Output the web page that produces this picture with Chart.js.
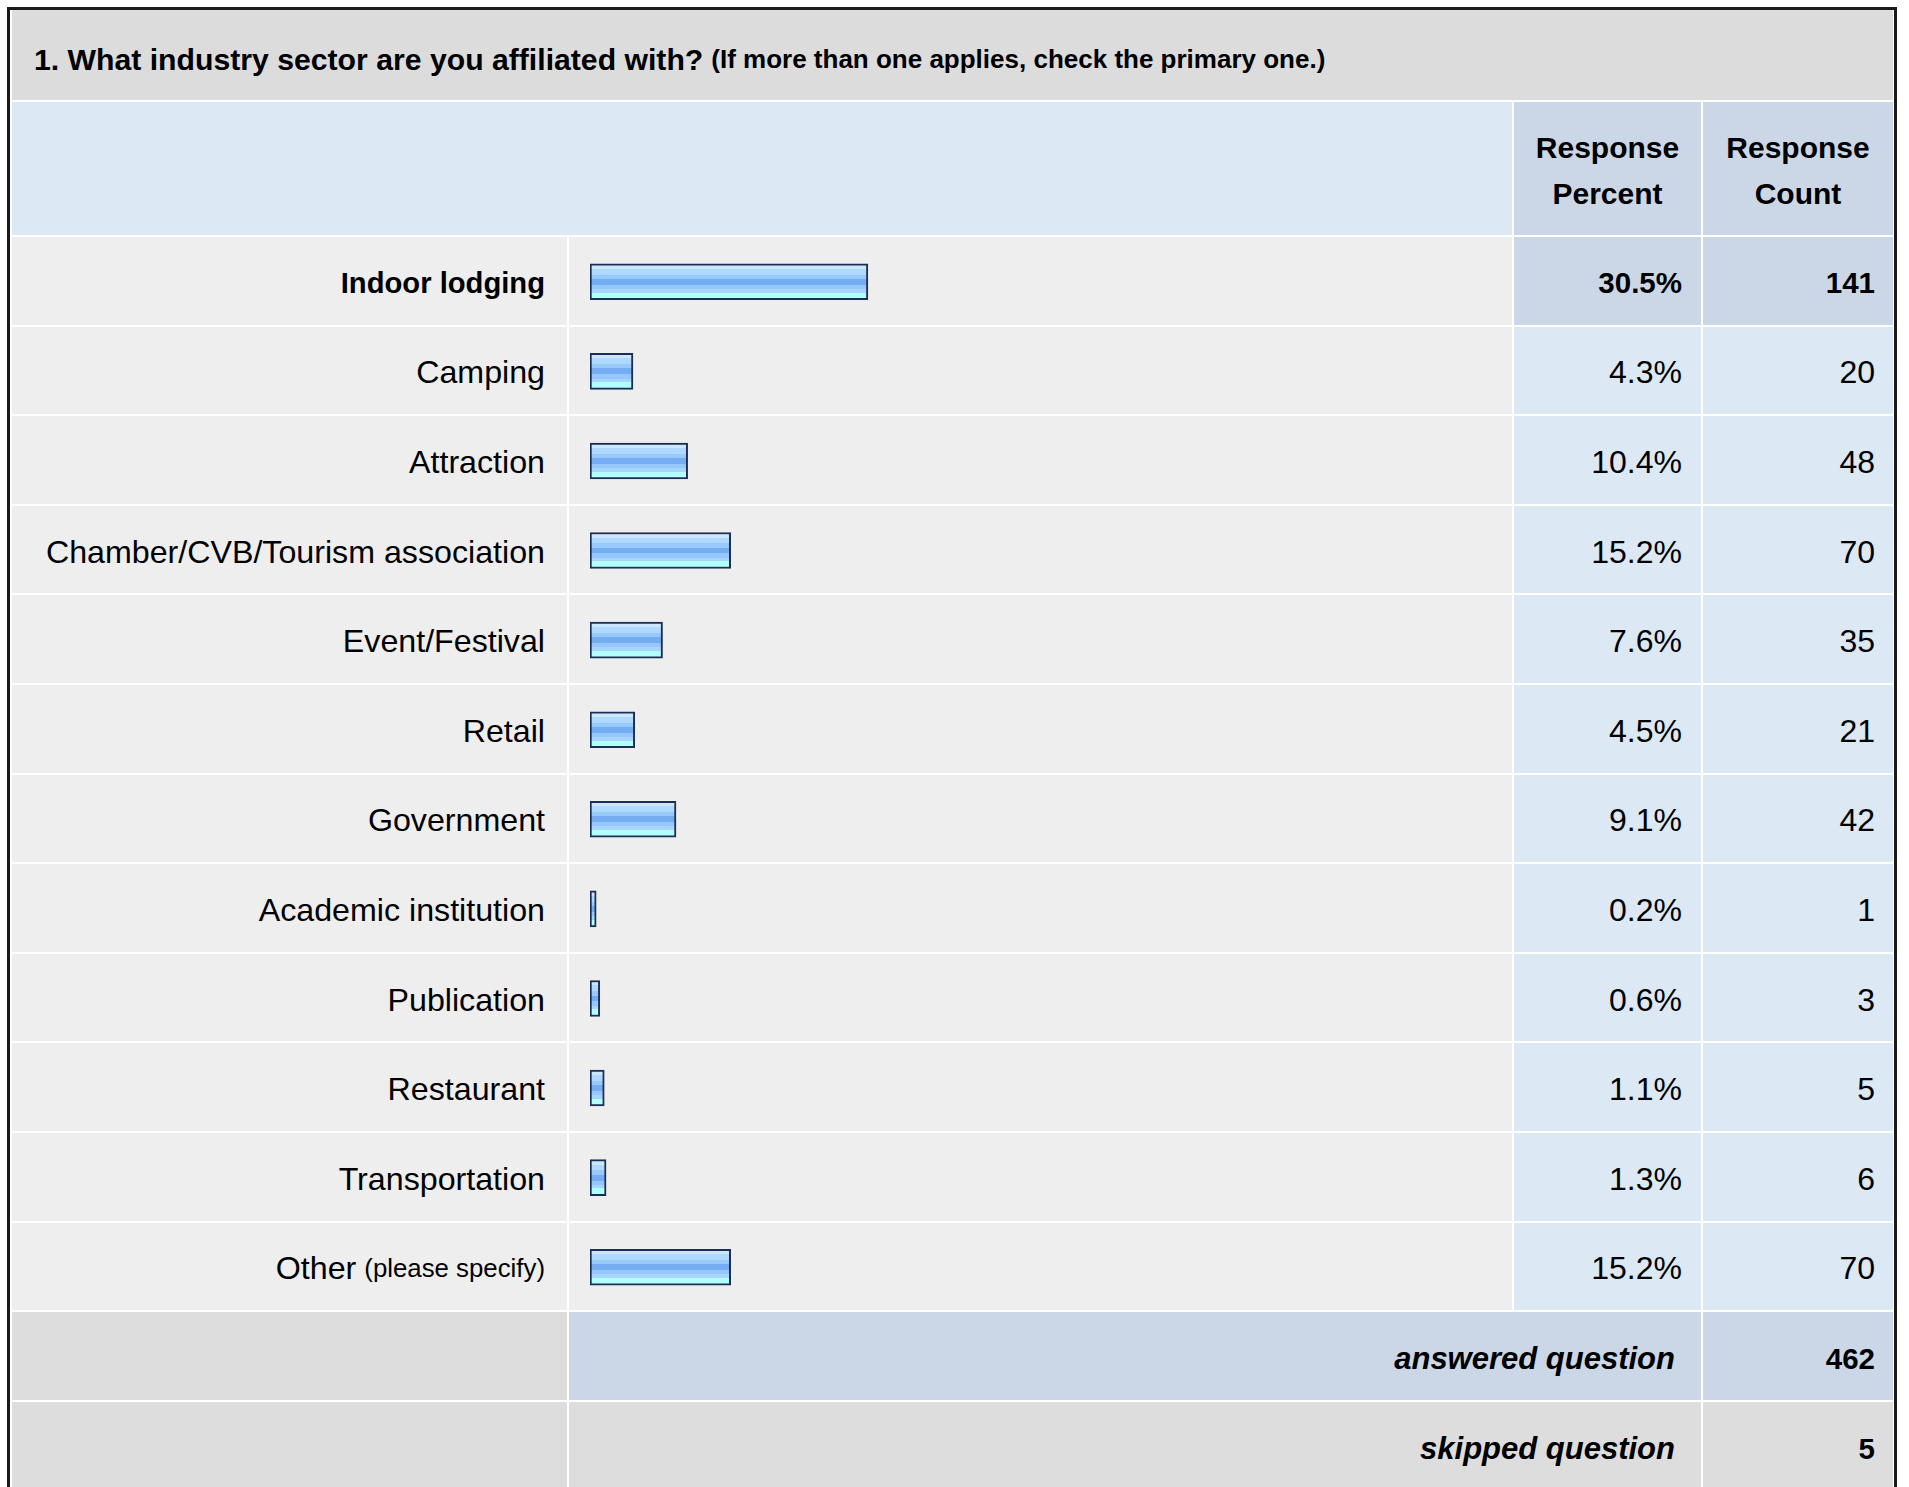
<!DOCTYPE html>
<html>
<head>
<meta charset="utf-8">
<title>Industry sector</title>
<script src="https://cdn.jsdelivr.net/npm/chart.js@4.4.1/dist/chart.umd.min.js"></script>
<style>
  html, body { margin: 0; padding: 0; background: #fff; overflow: hidden; }
  body { width: 1909px; height: 1487px; position: relative; font-family: 'Liberation Sans', Arial, Helvetica, sans-serif; color: #000; }
  #frame { position: absolute; left: 7px; top: 7px; width: 1884px; height: 1500px; border: 3px solid #1a1a1a; background: #fff; }
  #grid {
    position: absolute; left: 2px; top: 0;
    display: grid;
    grid-template-columns: 555px 943px 187px 190px;
    grid-template-rows: 90px 133px repeat(12, 87.6px) 88px 88px;
    gap: 2px;
  }
  .cell { display: flex; align-items: center; box-sizing: border-box; padding-top: 5px; }
  .title { grid-column: 1 / 5; background: #dcdcdc; padding-left: 22px; padding-top: 9px; font-weight: bold; font-size: 30.2px; }
  .title small { font-size: 26px; margin-left: 8px; }
  .head { background: #dde8f5; }
  .headcol { background: #cbd7e6; justify-content: center; text-align: center; font-weight: bold; font-size: 30px; line-height: 46px; padding-top: 5px; }
  .label { background: #eeeeee; justify-content: flex-end; padding-right: 22px; font-size: 32.2px; }
  .label small { font-size: 25.8px; margin-left: 8px; }
  .bar { background: #eeeeee; }
  .val { background: #dde8f5; justify-content: flex-end; font-size: 32px; }
  .pct { padding-right: 19px; }
  .cnt { padding-right: 18px; }
  .val.top { background: #cbd7e6; font-weight: bold; font-size: 29.5px; }
  .label.top { font-weight: bold; font-size: 29.2px; }
  .foot { background: #dddddd; }
  .footmid { grid-column: 2 / 4; justify-content: flex-end; padding-right: 26px; font-weight: bold; font-style: italic; font-size: 31px; }
  .footcnt { justify-content: flex-end; padding-right: 18px; font-weight: bold; font-size: 29.5px; }
  .blue { background: #cbd7e6; }
  #chartBox { position: absolute; left: 569px; top: 237px; width: 943px; height: 1075px; }
</style>
</head>
<body>
<div id="frame"><div id="grid"></div></div>
<div id="chartBox"><canvas id="bars" width="943" height="1075"></canvas></div>
<script>
const question = '1. What industry sector are you affiliated with?';
const questionNote = '(If more than one applies, check the primary one.)';
const categories = ['Indoor lodging', 'Camping', 'Attraction', 'Chamber/CVB/Tourism association',
    'Event/Festival', 'Retail', 'Government', 'Academic institution', 'Publication',
    'Restaurant', 'Transportation', 'Other'];
const categoryNotes = ['', '', '', '', '', '', '', '', '', '', '', '(please specify)'];
const percents = [30.5, 4.3, 10.4, 15.2, 7.6, 4.5, 9.1, 0.2, 0.6, 1.1, 1.3, 15.2];
const counts = [141, 20, 48, 70, 35, 21, 42, 1, 3, 5, 6, 70];
const answered = 462;
const skipped = 5;

const grid = document.getElementById('grid');
const topIndex = percents.indexOf(Math.max(...percents));

const addCell = (cls, html) => {
    const d = document.createElement('div');
    d.className = 'cell ' + cls;
    d.innerHTML = html;
    grid.appendChild(d);
    return d;
};

addCell('title', question + '<small>' + questionNote + '</small>');
addCell('head', '').style.gridColumn = '1 / 3';
addCell('headcol', 'Response<br>Percent');
addCell('headcol', 'Response<br>Count');

categories.forEach((name, i) => {
    const isTop = i === topIndex ? ' top' : '';
    const note = categoryNotes[i] ? '<small>' + categoryNotes[i] + '</small>' : '';
    addCell('label' + isTop, name + note);
    addCell('bar', '');
    addCell('val pct' + isTop, percents[i].toFixed(1) + '%');
    addCell('val cnt' + isTop, String(counts[i]));
});

addCell('foot', '');
addCell('footmid blue', 'answered question');
addCell('footcnt blue', String(answered));
addCell('foot', '');
addCell('footmid foot', 'skipped question');
addCell('footcnt foot', String(skipped));

// striped glossy fill, one gradient per bar
const stripes = [
    [0, 0.14, '#cde7ff'], [0.14, 0.3, '#b0d9ff'], [0.3, 0.42, '#98c9fd'],
    [0.42, 0.58, '#75adf3'], [0.58, 0.7, '#96c7fc'], [0.7, 0.8, '#a8d5ff'], [0.8, 1, '#b2ffff']
];
const thickness = 36;

const barFill = (context) => {
    const chart = context.chart;
    const { ctx, chartArea, scales } = chart;
    if (!chartArea || context.type !== 'data') {
        return '#98c9fd';
    }
    const yc = scales.y.getPixelForValue(context.dataIndex);
    const g = ctx.createLinearGradient(0, yc - thickness / 2, 0, yc + thickness / 2);
    stripes.forEach(([a, b, c]) => {
        g.addColorStop(a, c);
        g.addColorStop(b, c);
    });
    return g;
};

new Chart(document.getElementById('bars').getContext('2d'), {
    type: 'bar',
    data: {
        labels: categories,
        datasets: [{
            data: percents,
            base: -0.49,
            backgroundColor: barFill,
            borderColor: '#1b2f52',
            borderWidth: 2,
            borderSkipped: false,
            barThickness: thickness
        }]
    },
    options: {
        indexAxis: 'y',
        responsive: false,
        animation: false,
        layout: { padding: { left: 21, right: 21, top: 0, bottom: 0 } },
        scales: {
            x: { display: false, min: -0.49, max: 100 },
            y: { display: false }
        },
        plugins: {
            legend: { display: false },
            tooltip: { enabled: false }
        }
    }
});
</script>
</body>
</html>
